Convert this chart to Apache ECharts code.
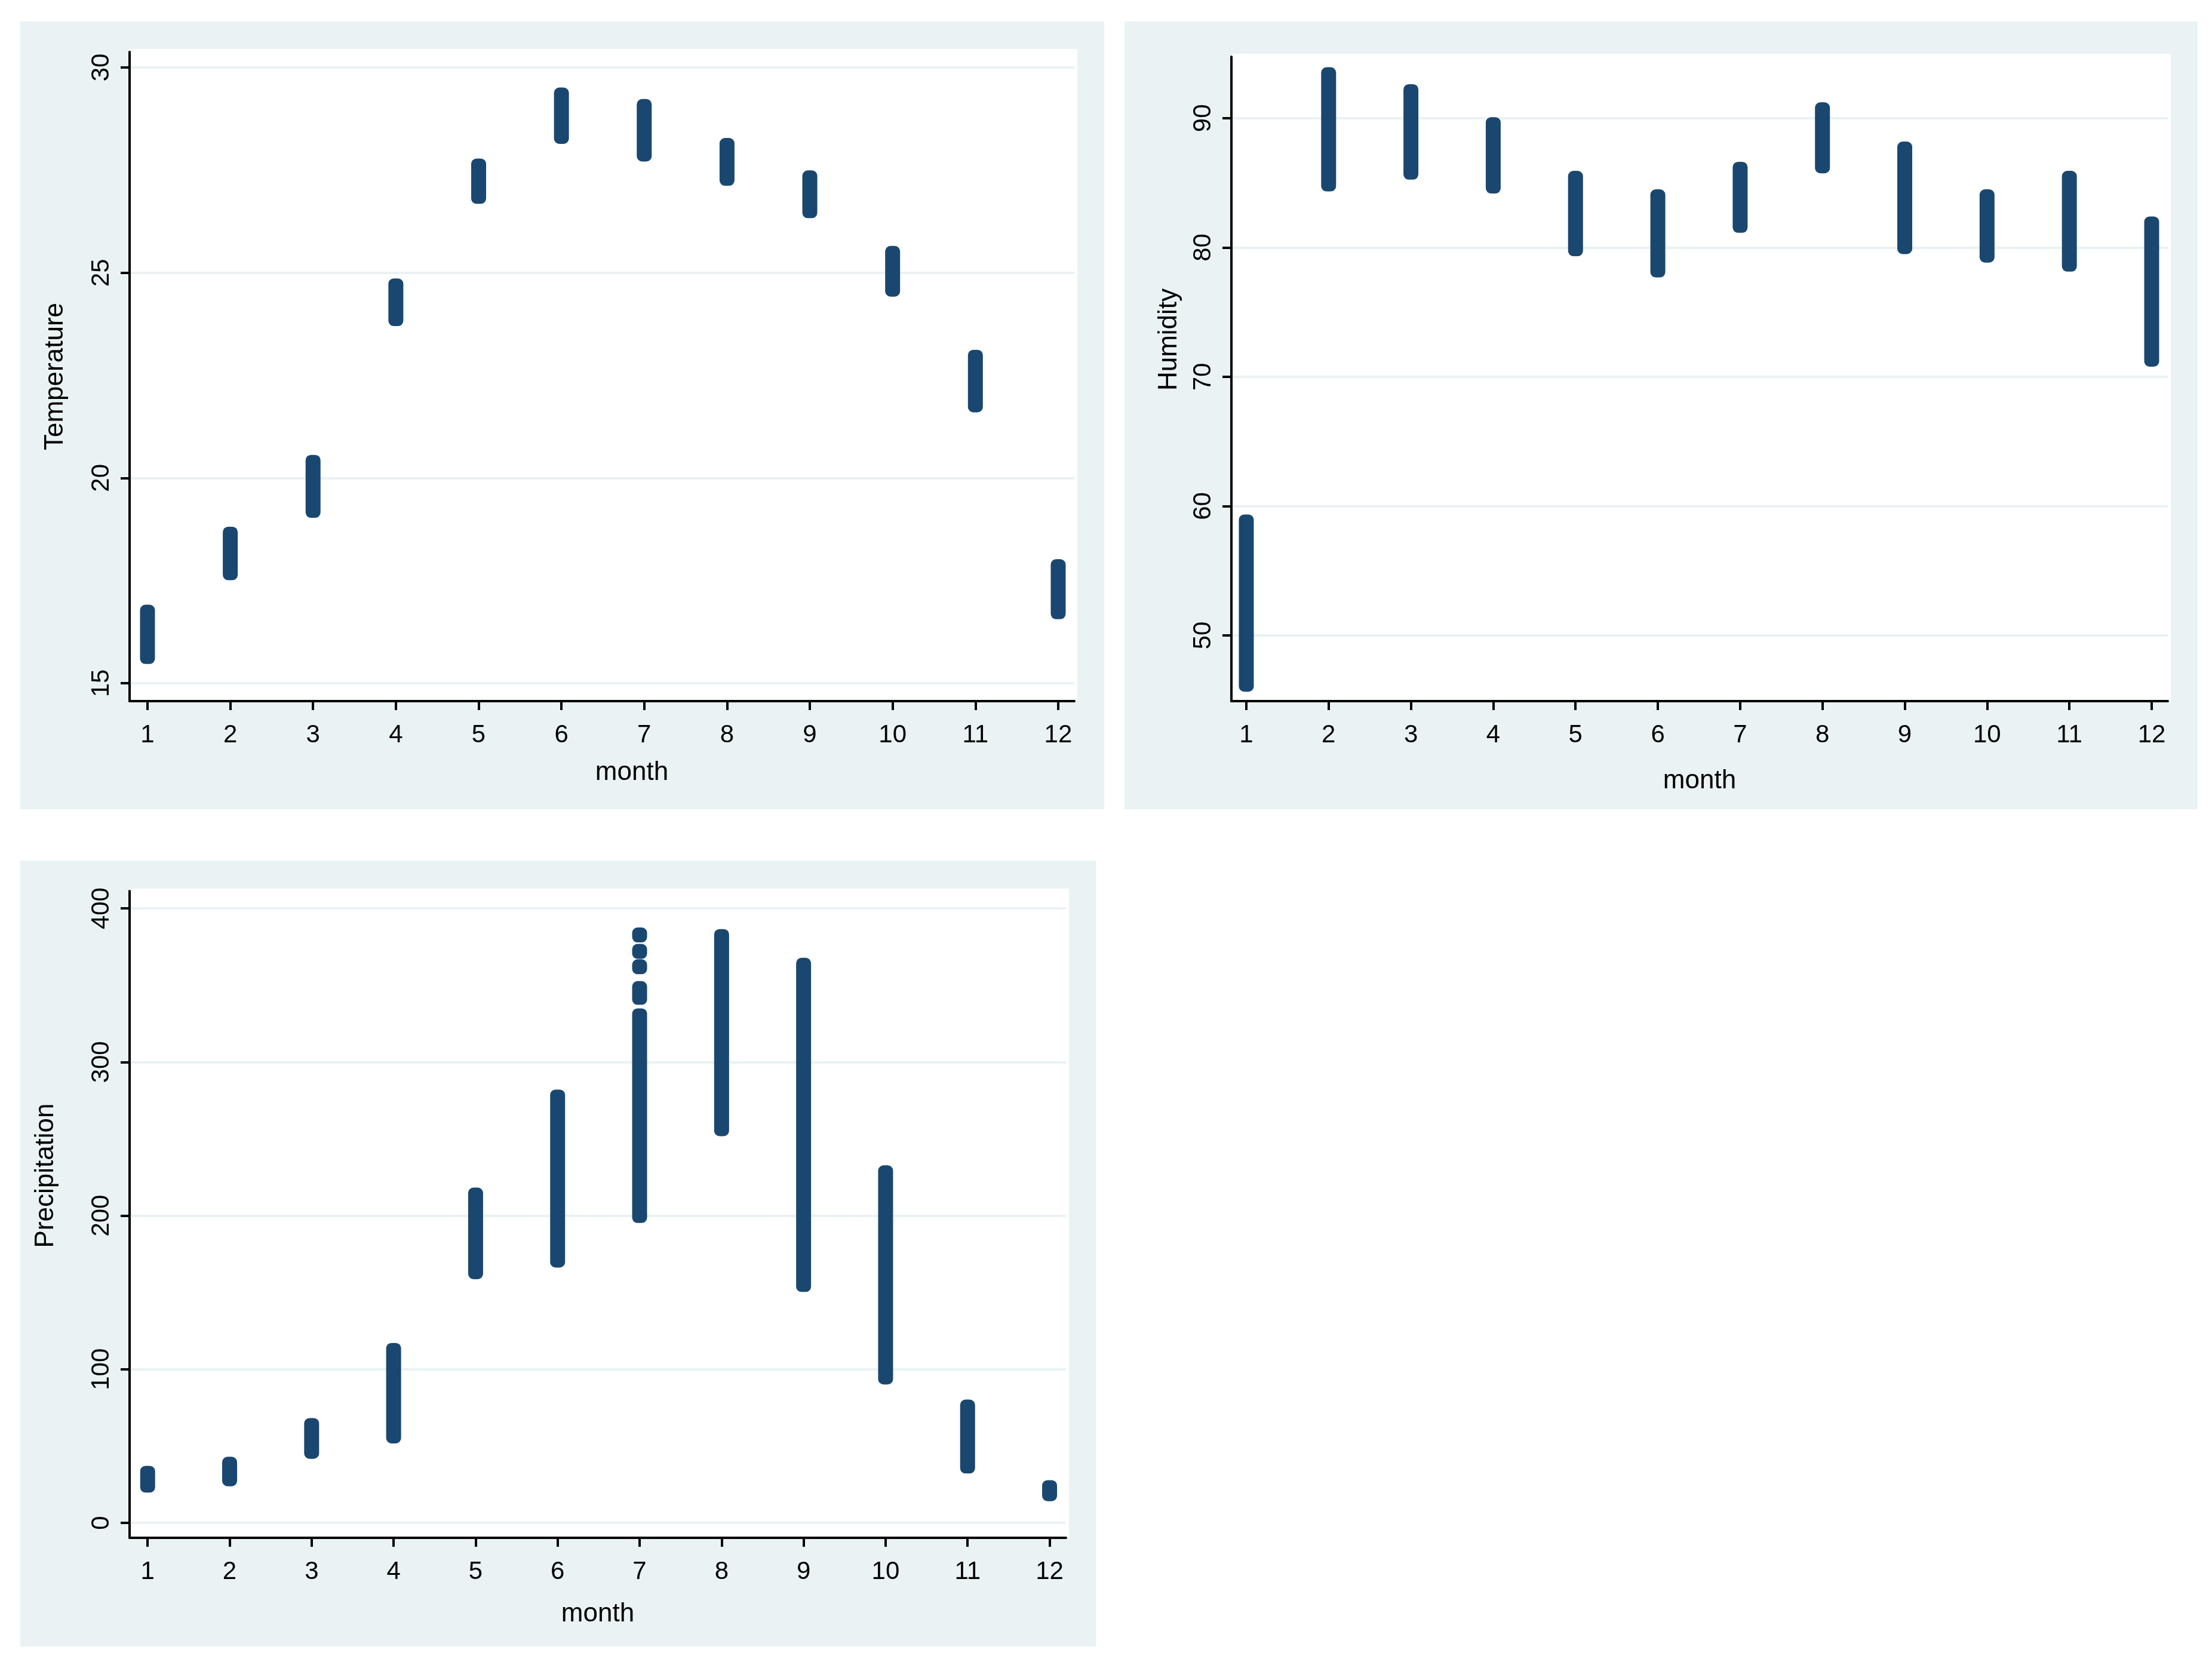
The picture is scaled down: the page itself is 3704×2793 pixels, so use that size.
<!DOCTYPE html>
<html>
<head>
<meta charset="utf-8">
<script src="https://cdn.jsdelivr.net/npm/echarts@6/dist/echarts.min.js"></script>
<style>
html,body{margin:0;padding:0;background:#ffffff;}
#chart{width:3704px;height:2793px;}
</style>
</head>
<body>
<div id="chart"></div>
<script>
const months = [1, 2, 3, 4, 5, 6, 7, 8, 9, 10, 11, 12];
const monthTicks = [1, 2, 3, 4, 5, 6, 7, 8, 9, 10, 11, 12];

const tempHigh = [16.73, 18.63, 20.38, 24.68, 27.60, 29.33, 29.05, 28.10, 27.31, 25.47, 22.94, 17.84];
const tempLow  = [15.65, 17.69, 19.21, 23.88, 26.86, 28.32, 27.89, 27.30, 26.51, 24.60, 21.78, 16.74];
const tempTicks = [15, 20, 25, 30];

const humidHigh = [58.78, 93.36, 92.05, 89.50, 85.35, 83.92, 86.05, 90.65, 87.61, 83.92, 85.35, 81.82];
const humidLow  = [46.23, 84.91, 85.82, 84.75, 79.90, 78.26, 81.71, 86.31, 80.07, 79.41, 78.71, 71.36];
const humidTicks = [50, 60, 70, 80, 90];

// July has separated clusters, hence several entries for month 7
const precipMonth = [1, 2, 3, 4, 5, 6, 7, 7, 7, 7, 7, 8, 9, 10, 11, 12];
const precipHigh  = [32.3, 38.2, 63.4, 112.3, 213.4, 277.2, 382.7, 372.0, 362.0, 347.8, 330.1, 381.7, 363.0, 227.9, 75.4, 23.0];
const precipLow   = [24.6, 28.7, 46.6, 56.6, 163.5, 171.1, 382.7, 372.0, 362.0, 342.1, 200.1, 256.6, 155.2, 95.0, 37.0, 19.0];
const precipTicks = [0, 100, 200, 300, 400];

// ---- styling ----
const BG = '#EAF2F3';
const NAVY = '#1A476F';
const FONT = 'Liberation Sans, Arial, sans-serif';
const R = 12.5;

function rows(xs, hi, lo) { return xs.map((m, i) => [m, hi[i], lo[i]]); }

function strip(params, api) {
  const m = api.value(0), hi = api.value(1), lo = api.value(2);
  const a = api.coord([m, hi]);
  const b = api.coord([m, lo]);
  return {
    type: 'rect',
    shape: { x: a[0] - R, y: a[1] - R, width: 2 * R, height: b[1] - a[1] + 2 * R, r: 9 },
    style: { fill: NAVY }
  };
}

function xAxis(gridIndex, min, max, nameGap, namePad) {
  return {
    type: 'value', gridIndex, min, max,
    name: 'month', nameLocation: 'middle', nameGap,
    nameTextStyle: { fontFamily: FONT, fontSize: 44, color: '#000', padding: namePad },
    axisLine: { show: true, onZero: false, lineStyle: { color: '#000', width: 4 } },
    axisTick: { show: true, length: 15, lineStyle: { color: '#000', width: 4 }, customValues: monthTicks },
    axisLabel: { show: true, fontFamily: FONT, fontSize: 42, color: '#000', margin: 36, customValues: monthTicks },
    splitLine: { show: false }
  };
}

function yAxis(gridIndex, min, max, name, nameGap, ticks, namePad) {
  return {
    type: 'value', gridIndex, min, max,
    name, nameLocation: 'middle', nameGap,
    nameTextStyle: { fontFamily: FONT, fontSize: 44, color: '#000', padding: namePad },
    axisLine: { show: true, lineStyle: { color: '#000', width: 4 } },
    axisTick: { show: true, length: 15, lineStyle: { color: '#000', width: 4 }, customValues: ticks },
    axisLabel: { show: true, rotate: 90, fontFamily: FONT, fontSize: 42, color: '#000', margin: 26, customValues: ticks },
    splitLine: { show: true, lineStyle: { color: BG, width: 4 } }
  };
}

const chart = echarts.init(document.getElementById('chart'), null, { renderer: 'canvas' });

chart.setOption({
  backgroundColor: '#ffffff',
  animation: false,
  graphic: [
    { type: 'rect', z: -100, shape: { x: 34, y: 36, width: 1815, height: 1319 }, style: { fill: BG } },
    { type: 'rect', z: -100, shape: { x: 1883, y: 36, width: 1797, height: 1319 }, style: { fill: BG } },
    { type: 'rect', z: -100, shape: { x: 34, y: 1441, width: 1801, height: 1316 }, style: { fill: BG } },
    { type: 'rect', z: -90, shape: { x: 217, y: 82, width: 1587, height: 1092 }, style: { fill: '#ffffff' } },
    { type: 'rect', z: -90, shape: { x: 2062, y: 90, width: 1573, height: 1084 }, style: { fill: '#ffffff' } },
    { type: 'rect', z: -90, shape: { x: 217, y: 1488, width: 1573, height: 1087 }, style: { fill: '#ffffff' } }
  ],
  grid: [
    { left: 217, top: 87, width: 1582, height: 1087 },
    { left: 2062, top: 95, width: 1568, height: 1079 },
    { left: 217, top: 1492, width: 1568, height: 1083 }
  ],
  xAxis: [
    xAxis(0, 0.784, 12.195, 98, [0, 0, 0, 100]),
    xAxis(1, 0.819, 12.196, 112, [0, 0, 0, 0]),
    xAxis(2, 0.78, 12.2, 106, [0, 0, 0, 0])
  ],
  yAxis: [
    yAxis(0, 14.563, 30.378, 'Temperature', 102, tempTicks, [0, 0, 0, 0]),
    yAxis(1, 44.92, 94.75, 'Humidity', 82, humidTicks, [0, 0, 0, 132]),
    yAxis(2, -9.7, 411.3, 'Precipitation', 118, precipTicks, [0, 0, 0, 130])
  ],
  series: [
    { type: 'custom', xAxisIndex: 0, yAxisIndex: 0, renderItem: strip, encode: { x: 0, y: [1, 2] }, data: rows(months, tempHigh, tempLow) },
    { type: 'custom', xAxisIndex: 1, yAxisIndex: 1, renderItem: strip, encode: { x: 0, y: [1, 2] }, data: rows(months, humidHigh, humidLow) },
    { type: 'custom', xAxisIndex: 2, yAxisIndex: 2, renderItem: strip, encode: { x: 0, y: [1, 2] }, data: rows(precipMonth, precipHigh, precipLow) }
  ]
});
</script>
</body>
</html>
